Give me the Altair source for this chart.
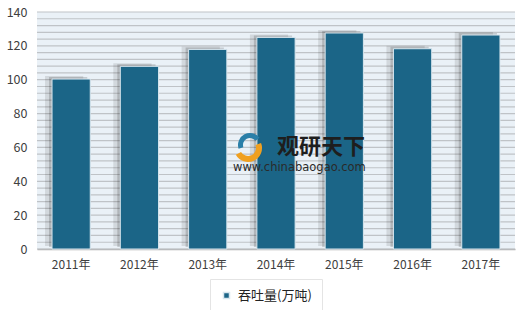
import altair as alt
import pandas as pd

years = ["2011年", "2012年", "2013年", "2014年", "2015年", "2016年", "2017年"]
values = [100.4, 107.9, 117.9, 125.0, 127.6, 118.3, 126.4]
series_name = "吞吐量(万吨)"
y_ticks = [0, 20, 40, 60, 80, 100, 120, 140]
grid_values = list(range(0, 141, 4))

df = pd.DataFrame({"year": years, "value": values, "series": [series_name] * len(years)})
grid_df = pd.DataFrame({"g": grid_values})

FONT = "Noto Sans CJK SC"
BAR = "#1b6587"

x_enc = alt.X("year:N", sort=years,
              scale=alt.Scale(paddingInner=0.44, paddingOuter=0.22),
              axis=alt.Axis(title=None, labelAngle=0, ticks=False, domain=True,
                            domainColor="#b0b0b0", domainWidth=1.5,
                            labelFontSize=12, labelColor="#404040",
                            labelPadding=10, labelFont=FONT))
y_scale = alt.Scale(domain=[0, 140], nice=False)
y_axis = alt.Axis(title=None, values=y_ticks, grid=False, ticks=False,
                  domain=False, labelFontSize=12.5, labelColor="#404040",
                  labelPadding=10, labelFont=FONT, labelOverlap=False)

grid = alt.Chart(grid_df).mark_rule(color="#bfc3c7", strokeWidth=1.2).encode(
    y=alt.Y("g:Q", scale=y_scale, axis=y_axis),
)

shadow1 = alt.Chart(df).mark_bar(color="#000000", opacity=0.10, xOffset=-7, yOffset=-3).encode(
    x=x_enc, y=alt.Y("value:Q", scale=y_scale, axis=y_axis))
shadow2 = alt.Chart(df).mark_bar(color="#000000", opacity=0.16, xOffset=-3, yOffset=-2).encode(
    x=x_enc, y=alt.Y("value:Q", scale=y_scale, axis=y_axis))

bars = alt.Chart(df).mark_bar(stroke="#d8e6ee", strokeWidth=1).encode(
    x=x_enc,
    y=alt.Y("value:Q", scale=y_scale, axis=y_axis),
    color=alt.Color("series:N", scale=alt.Scale(range=[BAR]),
                    legend=alt.Legend(title=None, orient="none", legendX=173, legendY=267,
                                      symbolType="square", symbolSize=36,
                                      labelFontSize=13, labelFont=FONT, labelColor="#222222",
                                      labelOffset=5,
                                      fillColor="#ffffff", strokeColor="#e4e4e4",
                                      padding=10)),
)

wm1 = alt.Chart(pd.DataFrame({"t": ["观研天下"]})).mark_text(
    font=FONT, fontSize=22, fontWeight="bold", color="#1e1e1e", align="left",
    baseline="middle").encode(text="t:N", x=alt.value(240), y=alt.value(135))
wm2 = alt.Chart(pd.DataFrame({"t": ["www.chinabaogao.com"]})).mark_text(
    font="DejaVu Sans", fontSize=11.5, color="#2a2a2a", align="left",
    baseline="middle").encode(text="t:N", x=alt.value(196), y=alt.value(156))
logo1 = alt.Chart(pd.DataFrame({"a": [1]})).mark_arc(
    innerRadius=8, outerRadius=14, theta=1.2, theta2=4.2, color="#f0a020").encode(
    x=alt.value(211), y=alt.value(136))
logo2 = alt.Chart(pd.DataFrame({"a": [1]})).mark_arc(
    innerRadius=7, outerRadius=12, theta=4.4, theta2=7.2, color="#2a7fa8").encode(
    x=alt.value(213), y=alt.value(133))

chart = alt.layer(grid, shadow1, shadow2, bars, logo1, logo2, wm1, wm2).properties(
    width=478, height=237,
    padding={"left": 37, "top": 12, "right": 5, "bottom": 61},
    autosize=alt.AutoSizeParams(type="none"),
    background="#ffffff",
).configure_view(fill="#eaf1f7", stroke=None)

chart.save("out.html", embed_options={"renderer": "svg", "actions": False})
